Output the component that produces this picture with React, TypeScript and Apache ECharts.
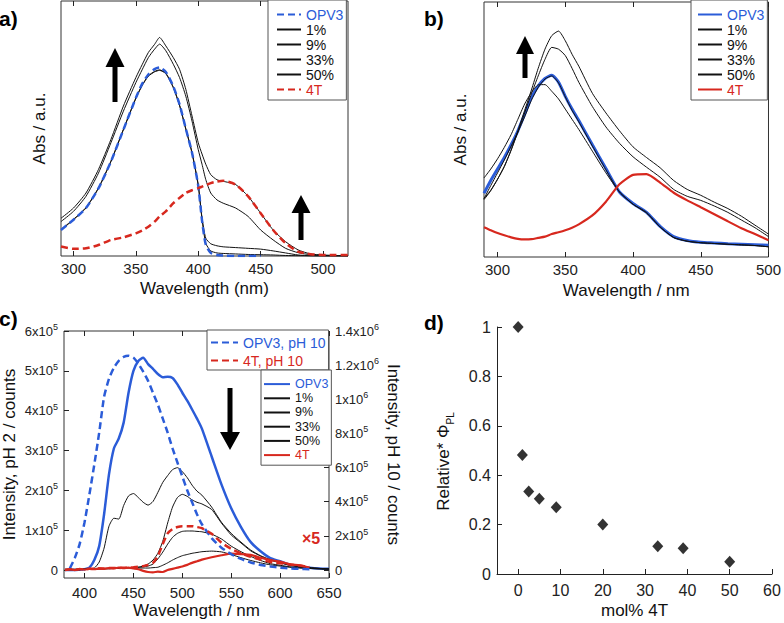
import React, { useEffect, useRef } from "react";
import * as echarts from "echarts";

const BLUE = "#2b5cd8";
const RED = "#d7281e";
const INK = "#111";
const FONT = "'Liberation Sans', Arial, Helvetica, sans-serif";

// ---------- Panel a ----------
const wlA = [290, 300, 310, 320, 330, 340, 350, 355, 360, 365, 369, 374, 380, 385, 390, 395, 400, 403, 406, 410, 415, 420, 430, 440, 450, 460, 470, 480, 490, 500, 510, 520];
const aOPV3 = [0.102, 0.142, 0.188, 0.265, 0.37, 0.495, 0.62, 0.675, 0.712, 0.733, 0.739, 0.722, 0.665, 0.595, 0.5, 0.405, 0.275, 0.14, 0.045, 0.012, 0.004, 0.002, 0, 0, 0, null, null, null, null, null, null, null];
const a1 = [0.102, 0.142, 0.188, 0.265, 0.37, 0.495, 0.618, 0.668, 0.705, 0.722, 0.728, 0.715, 0.66, 0.59, 0.497, 0.403, 0.275, 0.145, 0.05, 0.02, 0.012, 0.01, 0.008, 0.006, 0.005, 0.004, 0.002, 0.001, 0, 0, 0, 0];
const a9 = [0.104, 0.144, 0.19, 0.267, 0.372, 0.497, 0.62, 0.67, 0.707, 0.724, 0.73, 0.717, 0.662, 0.592, 0.5, 0.407, 0.28, 0.15, 0.07, 0.048, 0.04, 0.036, 0.033, 0.03, 0.027, 0.02, 0.012, 0.004, 0.001, 0, 0, 0];
const a33 = [0.135, 0.175, 0.234, 0.325, 0.444, 0.568, 0.68, 0.73, 0.778, 0.811, 0.831, 0.805, 0.752, 0.7, 0.627, 0.529, 0.417, 0.36, 0.3, 0.247, 0.22, 0.207, 0.188, 0.155, 0.102, 0.063, 0.03, 0.013, 0.005, 0.002, 0.001, 0];
const a50 = [0.148, 0.188, 0.247, 0.339, 0.457, 0.588, 0.7, 0.75, 0.798, 0.83, 0.857, 0.824, 0.778, 0.732, 0.654, 0.549, 0.444, 0.4, 0.36, 0.319, 0.299, 0.293, 0.28, 0.234, 0.168, 0.102, 0.056, 0.024, 0.008, 0.004, 0.002, 0.001];
const a4T = [0.037, 0.028, 0.03, 0.043, 0.063, 0.073, 0.089, 0.1, 0.115, 0.135, 0.155, 0.175, 0.207, 0.228, 0.247, 0.258, 0.266, 0.272, 0.278, 0.286, 0.292, 0.295, 0.28, 0.234, 0.168, 0.102, 0.05, 0.017, 0.007, 0.004, 0.004, 0.004];

// ---------- Panel b ----------
const wlB = [290, 295, 300, 305, 310, 315, 320, 325, 330, 335, 340, 345, 350, 355, 360, 370, 380, 390, 400, 410, 420, 430, 440, 450, 460, 470, 480, 490, 500];
const bOPV3 = [0.25, 0.3, 0.345, 0.39, 0.44, 0.495, 0.56, 0.625, 0.67, 0.7, 0.713, 0.686, 0.63, 0.58, 0.535, 0.44, 0.347, 0.255, 0.21, 0.175, 0.12, 0.08, 0.065, 0.058, 0.055, 0.052, 0.05, 0.048, 0.046];
const b1 = [0.31, 0.345, 0.385, 0.43, 0.48, 0.54, 0.6, 0.645, 0.675, 0.676, 0.65, 0.62, 0.58, 0.54, 0.5, 0.415, 0.33, 0.255, 0.207, 0.175, 0.118, 0.076, 0.062, 0.056, 0.053, 0.05, 0.048, 0.045, 0.04];
const b9 = [0.229, 0.28, 0.33, 0.38, 0.435, 0.49, 0.55, 0.615, 0.665, 0.698, 0.71, 0.683, 0.628, 0.575, 0.53, 0.435, 0.342, 0.255, 0.207, 0.172, 0.117, 0.077, 0.062, 0.056, 0.053, 0.05, 0.047, 0.045, 0.04];
const b33 = [0.229, 0.262, 0.305, 0.355, 0.418, 0.49, 0.565, 0.64, 0.71, 0.775, 0.822, 0.815, 0.79, 0.74, 0.685, 0.59, 0.51, 0.446, 0.393, 0.352, 0.313, 0.265, 0.238, 0.222, 0.2, 0.175, 0.145, 0.115, 0.08];
const b50 = [0.225, 0.26, 0.305, 0.355, 0.42, 0.495, 0.575, 0.655, 0.74, 0.815, 0.868, 0.886, 0.848, 0.795, 0.748, 0.642, 0.565, 0.495, 0.432, 0.39, 0.35, 0.3, 0.265, 0.242, 0.215, 0.19, 0.16, 0.125, 0.09];
const b4T = [0.117, 0.105, 0.094, 0.085, 0.077, 0.071, 0.069, 0.07, 0.075, 0.08, 0.09, 0.097, 0.105, 0.115, 0.128, 0.163, 0.217, 0.285, 0.322, 0.325, 0.292, 0.252, 0.222, 0.195, 0.168, 0.14, 0.113, 0.09, 0.066];

// ---------- Panel c (units of 1e5 counts) ----------
const wlC = [380, 385, 390, 395, 400, 405, 410, 415, 420, 425, 430, 435, 440, 445, 450, 455, 460, 465, 470, 475, 480, 485, 490, 495, 500, 505, 510, 515, 520, 530, 540, 550, 560, 570, 580, 590, 600, 610, 620, 630, 640, 650];
const cOPV3 = [0, 0, 0, 0.01, 0.02, 0.06, 0.25, 0.6, 1.4, 2.4, 3.05, 3.3, 3.7, 4.45, 5.0, 5.25, 5.33, 5.17, 5.05, 4.92, 4.84, 4.85, 4.82, 4.66, 4.45, 4.25, 4.03, 3.8, 3.55, 2.85, 2.15, 1.55, 1.08, 0.7, 0.47, 0.3, 0.22, 0.13, 0.09, 0.06, 0.04, 0.03];
const c1 = [0.02, 0.02, 0.02, 0.02, 0.02, 0.03, 0.05, 0.2, 0.55, 1.1, 1.3, 1.28, 1.62, 1.86, 1.92, 1.82, 1.7, 1.63, 1.72, 1.95, 2.2, 2.37, 2.52, 2.57, 2.47, 2.32, 2.13, 1.98, 1.88, 1.58, 1.2, 0.92, 0.7, 0.5, 0.36, 0.26, 0.19, 0.13, 0.09, 0.06, 0.04, 0.03];
const c9 = [0.01, 0.01, 0.01, 0.01, 0.02, 0.02, 0.02, 0.03, 0.04, 0.04, 0.05, 0.05, 0.06, 0.06, 0.06, 0.07, 0.1, 0.15, 0.25, 0.42, 0.72, 1.18, 1.58, 1.82, 1.9, 1.85, 1.76, 1.7, 1.66, 1.52, 1.18, 0.88, 0.68, 0.48, 0.35, 0.25, 0.18, 0.12, 0.08, 0.06, 0.04, 0.03];
const c33 = [0.01, 0.01, 0.01, 0.01, 0.02, 0.02, 0.02, 0.03, 0.03, 0.04, 0.04, 0.05, 0.05, 0.06, 0.06, 0.07, 0.08, 0.1, 0.15, 0.28, 0.45, 0.65, 0.82, 0.92, 0.97, 0.98, 0.98, 0.97, 0.96, 0.9, 0.78, 0.6, 0.46, 0.34, 0.24, 0.16, 0.12, 0.08, 0.06, 0.04, 0.03, 0.02];
const c50 = [0.01, 0.01, 0.01, 0.01, 0.02, 0.02, 0.02, 0.03, 0.03, 0.03, 0.04, 0.04, 0.04, 0.05, 0.05, 0.05, 0.05, 0.05, 0.06, 0.07, 0.12, 0.18, 0.25, 0.31, 0.36, 0.39, 0.42, 0.44, 0.46, 0.475, 0.455, 0.39, 0.31, 0.24, 0.18, 0.13, 0.1, 0.07, 0.05, 0.04, 0.03, 0.02];
const c4T = [0, 0.02, 0, 0.03, 0.01, 0.03, 0.02, 0.04, 0.03, 0.05, 0.04, 0.06, 0.05, 0.06, 0.04, 0.02, -0.02, -0.05, -0.06, -0.04, -0.05, 0, 0.03, 0.06, 0.09, 0.13, 0.18, 0.22, 0.26, 0.32, 0.37, 0.41, 0.4, 0.38, 0.31, 0.25, 0.21, 0.14, 0.12, 0.06, null, null];
// pH 10 spectra on the right axis (units of 1e5 counts)
const cOPV3pH10 = [null, 0.1, 0.7, 1.52, 2.8, 4.43, 6.18, 8.05, 10.15, 11.2, 11.85, 12.25, 12.48, 12.55, 12.44, 12.09, 11.62, 11.08, 10.38, 9.68, 8.87, 8.05, 7.12, 6.3, 5.48, 4.67, 3.97, 3.27, 2.68, 1.87, 1.31, 0.93, 0.65, 0.44, 0.3, 0.21, 0.14, 0.09, 0.07, 0.05, null, null];
const c4TpH10 = [0, 0.05, 0.02, 0.05, 0.05, 0.07, 0.07, 0.09, 0.09, 0.12, 0.12, 0.12, 0.14, 0.14, 0.16, 0.19, 0.23, 0.3, 0.42, 0.82, 1.52, 2.15, 2.4, 2.52, 2.57, 2.57, 2.57, 2.52, 2.45, 2.12, 1.6, 1.24, 0.98, 0.77, 0.61, 0.47, 0.4, 0.33, 0.26, 0.19, null, null];

// ---------- Panel d ----------
const molPct = [0, 1, 2.5, 5, 9, 20, 33, 39, 50];
const relPhi = [1.0, 0.482, 0.334, 0.305, 0.27, 0.2, 0.112, 0.104, 0.05];

// tick values
const ticksAB = [300, 350, 400, 450, 500];
const ticksC = [400, 450, 500, 550, 600, 650];
const ticksCLeft = [0, 1, 2, 3, 4, 5, 6];
const ticksCRight = [0, 2, 4, 6, 8, 10, 12, 14];
const ticksDX = [0, 10, 20, 30, 40, 50, 60];

const pairs = (x: number[], y: (number | null)[]) => x.map((w, i) => [w, y[i]]);

function line(name: string, x: number[], y: (number | null)[], xi: number, yi: number, color: string, width: number, dashed = false, z = 2) {
  return {
    type: "line",
    name,
    xAxisIndex: xi,
    yAxisIndex: yi,
    data: pairs(x, y),
    showSymbol: false,
    symbol: "none",
    smooth: 0.2,
    z,
    lineStyle: { color, width, type: dashed ? [7, 4] : "solid" },
    itemStyle: { color },
    silent: true,
  };
}

const axisLbl = { color: "#222", fontFamily: FONT };
const nameStyle = { fontSize: 17, color: "#111", fontFamily: FONT };

function bottomAxis(grid: number, min: number, max: number, ticks: number[], name: string, margin: number, gap: number, fs: number) {
  return {
    type: "value",
    gridIndex: grid,
    min,
    max,
    position: "bottom",
    axisLine: { show: false, onZero: false },
    axisTick: { show: true, inside: true, length: 5, customValues: ticks, lineStyle: { color: "#222" } },
    axisLabel: { ...axisLbl, fontSize: fs, margin, customValues: ticks },
    splitLine: { show: false },
    name,
    nameLocation: "middle",
    nameGap: gap,
    nameTextStyle: nameStyle,
  };
}
function topAxis(grid: number, min: number, max: number, ticks: number[]) {
  return {
    type: "value",
    gridIndex: grid,
    min,
    max,
    position: "top",
    axisLine: { show: false, onZero: false },
    axisTick: { show: true, inside: true, length: 5, customValues: ticks, lineStyle: { color: "#222" } },
    axisLabel: { show: false },
    splitLine: { show: false },
  };
}

const supRich = {
  m: { fontSize: 13, lineHeight: 17, color: "#222", fontFamily: FONT },
  s: { fontSize: 9, lineHeight: 9, verticalAlign: "top", color: "#222", fontFamily: FONT },
};

function legendBox(left: number, top: number, pad: number[], iw: number, ih: number, gap: number, fs: number, items: any[]) {
  return {
    left,
    top,
    orient: "vertical",
    backgroundColor: "#fff",
    borderColor: "#555",
    borderWidth: 1,
    borderRadius: 0,
    padding: pad,
    itemWidth: iw,
    itemHeight: ih,
    itemGap: gap,
    selectedMode: false,
    itemStyle: { opacity: 0, borderWidth: 0 },
    textStyle: { fontSize: fs, color: INK, lineHeight: ih, fontFamily: FONT },
    formatter: (n: string) => n.slice(2),
    data: items,
  };
}

function arrow(cx: number, tip: number, base: number, tail: number, hw: number, sw: number) {
  return {
    type: "polygon",
    shape: {
      points: [
        [cx - sw, tail],
        [cx - sw, base],
        [cx - hw, base],
        [cx, tip],
        [cx + hw, base],
        [cx + sw, base],
        [cx + sw, tail],
      ],
    },
    style: { fill: "#000" },
    z: 20,
  };
}

export default function App() {
  const ref = useRef<HTMLDivElement>(null);
  useEffect(() => {
    if (!ref.current) return;
    const chart = echarts.init(ref.current, null, { renderer: "svg" });
    const gridBox = { show: true, borderColor: "#333", borderWidth: 1, backgroundColor: "transparent" };
    const option: any = {
      animation: false,
      textStyle: { fontFamily: FONT },
      grid: [
        { ...gridBox, left: 61, top: 1, width: 287, height: 255 },
        { ...gridBox, left: 484, top: 2, width: 286, height: 255 },
        { ...gridBox, left: 63, top: 331, width: 266, height: 247 },
        { show: false, left: 497, top: 327, width: 275, height: 247 },
      ],
      xAxis: [
        bottomAxis(0, 290, 520, ticksAB, "Wavelength (nm)", 5, 24, 15),
        topAxis(0, 290, 520, ticksAB),
        bottomAxis(1, 290, 500, ticksAB, "Wavelength / nm", 5, 25, 15),
        topAxis(1, 290, 500, ticksAB),
        bottomAxis(2, 379, 650, ticksC, "Wavelength / nm", 7, 24, 15),
        topAxis(2, 379, 650, ticksC),
        {
          type: "value",
          gridIndex: 3,
          min: -5,
          max: 60,
          axisLine: { show: true, onZero: false, lineStyle: { color: "#222" } },
          axisTick: { show: true, inside: true, length: 5, customValues: ticksDX, lineStyle: { color: "#222" } },
          axisLabel: { ...axisLbl, fontSize: 16, margin: 8, customValues: ticksDX },
          splitLine: { show: false },
          name: "mol% 4T",
          nameLocation: "middle",
          nameGap: 28,
          nameTextStyle: nameStyle,
        },
      ],
      yAxis: [
        {
          type: "value", gridIndex: 0, min: 0, max: 1,
          axisLine: { show: false }, axisTick: { show: false }, axisLabel: { show: false }, splitLine: { show: false },
          name: "Abs / a.u.", nameLocation: "middle", nameGap: 13, nameTextStyle: nameStyle,
        },
        {
          type: "value", gridIndex: 1, min: 0, max: 1,
          axisLine: { show: false }, axisTick: { show: false }, axisLabel: { show: false }, splitLine: { show: false },
          name: "Abs / a.u.", nameLocation: "middle", nameGap: 15, nameTextStyle: nameStyle,
        },
        {
          type: "value", gridIndex: 2, min: -0.2, max: 6, position: "left",
          axisLine: { show: false, onZero: false },
          axisTick: { show: true, inside: true, length: 5, customValues: ticksCLeft, lineStyle: { color: "#222" } },
          axisLabel: {
            margin: 6,
            customValues: ticksCLeft,
            formatter: (v: number) => (v === 0 ? "{m|0}" : `{m|${v}x10}{s|5}`),
            rich: supRich,
          },
          splitLine: { show: false },
          name: "Intensity, pH 2 / counts", nameLocation: "middle", nameGap: 46, nameTextStyle: nameStyle,
        },
        {
          type: "value", gridIndex: 2, min: -0.4667, max: 14, position: "right",
          axisLine: { show: false, onZero: false },
          axisTick: { show: true, inside: true, length: 5, customValues: ticksCRight, lineStyle: { color: "#222" } },
          axisLabel: {
            margin: 6,
            customValues: ticksCRight,
            formatter: (v: number) =>
              v === 0 ? "{m|0}" : v >= 10 ? `{m|${v / 10}x10}{s|6}` : `{m|${v}x10}{s|5}`,
            rich: supRich,
          },
          splitLine: { show: false },
          name: "Intensity, pH 10 / counts", nameLocation: "middle", nameGap: 56, nameRotate: -90, nameTextStyle: nameStyle,
        },
        {
          type: "value", gridIndex: 3, min: 0, max: 1, interval: 0.2,
          axisLine: { show: true, onZero: false, lineStyle: { color: "#222" } },
          axisTick: { show: true, inside: true, length: 5, lineStyle: { color: "#222" } },
          axisLabel: { ...axisLbl, fontSize: 16, margin: 6, formatter: (v: number) => (v === 0 ? "0" : v === 1 ? "1" : v.toFixed(1)) },
          splitLine: { show: false },
          name: "{n|Relative* Φ}{s|PL}",
          nameLocation: "middle",
          nameGap: 42,
          nameTextStyle: {
            ...nameStyle,
            padding: [0, 22, 0, 0],
            rich: {
              n: { fontSize: 17, lineHeight: 24, color: "#111", fontFamily: FONT },
              s: { fontSize: 10, lineHeight: 10, verticalAlign: "bottom", color: "#111", fontFamily: FONT },
            },
          },
        },
      ],
      legend: [
        legendBox(268, 0, [7, 3, 3, 8], 24, 15, 0, 14, [
          { name: "a:OPV3", textStyle: { color: BLUE } }, "a:1%", "a:9%", "a:33%", "a:50%",
          { name: "a:4T", textStyle: { color: RED } },
        ]),
        legendBox(691, 0, [7, 3, 3, 6], 24, 15, 0, 14, [
          { name: "b:OPV3", textStyle: { color: BLUE } }, "b:1%", "b:9%", "b:33%", "b:50%",
          { name: "b:4T", textStyle: { color: RED } },
        ]),
        legendBox(207, 330, [4, 3, 1, 3], 27, 17, 1, 14, [
          { name: "p:OPV3, pH 10", textStyle: { color: BLUE } },
          { name: "q:4T, pH 10", textStyle: { color: RED } },
        ]),
        legendBox(261, 370, [7, 3, 3, 2], 26, 14.2, 0, 12.5, [
          { name: "c:OPV3", textStyle: { color: BLUE } }, "c:1%", "c:9%", "c:33%", "c:50%",
          { name: "c:4T", textStyle: { color: RED } },
        ]),
      ],
      series: [
        // panel a
        line("a:1%", wlA, a1, 0, 0, INK, 1),
        line("a:9%", wlA, a9, 0, 0, INK, 1),
        line("a:33%", wlA, a33, 0, 0, INK, 1),
        line("a:50%", wlA, a50, 0, 0, INK, 1),
        line("a:OPV3", wlA, aOPV3, 0, 0, BLUE, 2.5, true, 3),
        line("a:4T", wlA, a4T, 0, 0, RED, 2.5, true, 4),
        // panel b
        line("b:OPV3", wlB, bOPV3, 2, 1, BLUE, 3),
        line("b:1%", wlB, b1, 2, 1, INK, 1, false, 3),
        line("b:9%", wlB, b9, 2, 1, INK, 1, false, 3),
        line("b:33%", wlB, b33, 2, 1, INK, 1, false, 3),
        line("b:50%", wlB, b50, 2, 1, INK, 1, false, 3),
        line("b:4T", wlB, b4T, 2, 1, RED, 2.2, false, 4),
        // panel c
        line("c:OPV3", wlC, cOPV3, 4, 2, BLUE, 2.5),
        line("c:1%", wlC, c1, 4, 2, INK, 1),
        line("c:9%", wlC, c9, 4, 2, INK, 1),
        line("c:33%", wlC, c33, 4, 2, INK, 1),
        line("c:50%", wlC, c50, 4, 2, INK, 1),
        line("c:4T", wlC, c4T, 4, 2, RED, 2.2, false, 3),
        line("p:OPV3, pH 10", wlC, cOPV3pH10, 4, 3, BLUE, 2.5, true, 4),
        line("q:4T, pH 10", wlC, c4TpH10, 4, 3, RED, 2.5, true, 4),
        // panel d
        {
          type: "scatter",
          name: "d:phi",
          xAxisIndex: 6,
          yAxisIndex: 4,
          data: pairs(molPct, relPhi),
          symbol: "diamond",
          symbolSize: [11, 12],
          itemStyle: { color: "#000" },
          silent: true,
        },
      ],
      graphic: [
        { type: "text", left: -1, top: 8, style: { text: "a)", font: `bold 21px ${FONT}`, fill: "#000" } },
        { type: "text", left: 424, top: 8, style: { text: "b)", font: `bold 21px ${FONT}`, fill: "#000" } },
        { type: "text", left: -1, top: 308, style: { text: "c)", font: `bold 21px ${FONT}`, fill: "#000" } },
        { type: "text", left: 424, top: 312, style: { text: "d)", font: `bold 21px ${FONT}`, fill: "#000" } },
        { type: "text", left: 302, top: 530, style: { text: "×5", font: `bold 16px ${FONT}`, fill: RED } },
        arrow(115, 48, 67, 102, 9.5, 2.5),
        arrow(301, 195, 213, 240, 9.5, 2.5),
        arrow(525, 36, 54, 78, 9, 2.5),
        arrow(230, 450, 432, 388, 10, 2.5),
      ],
    };
    chart.setOption(option);
    return () => chart.dispose();
  }, []);
  return <div ref={ref} style={{ position: "absolute", left: 0, top: 0, width: 784, height: 623 }} />;
}
